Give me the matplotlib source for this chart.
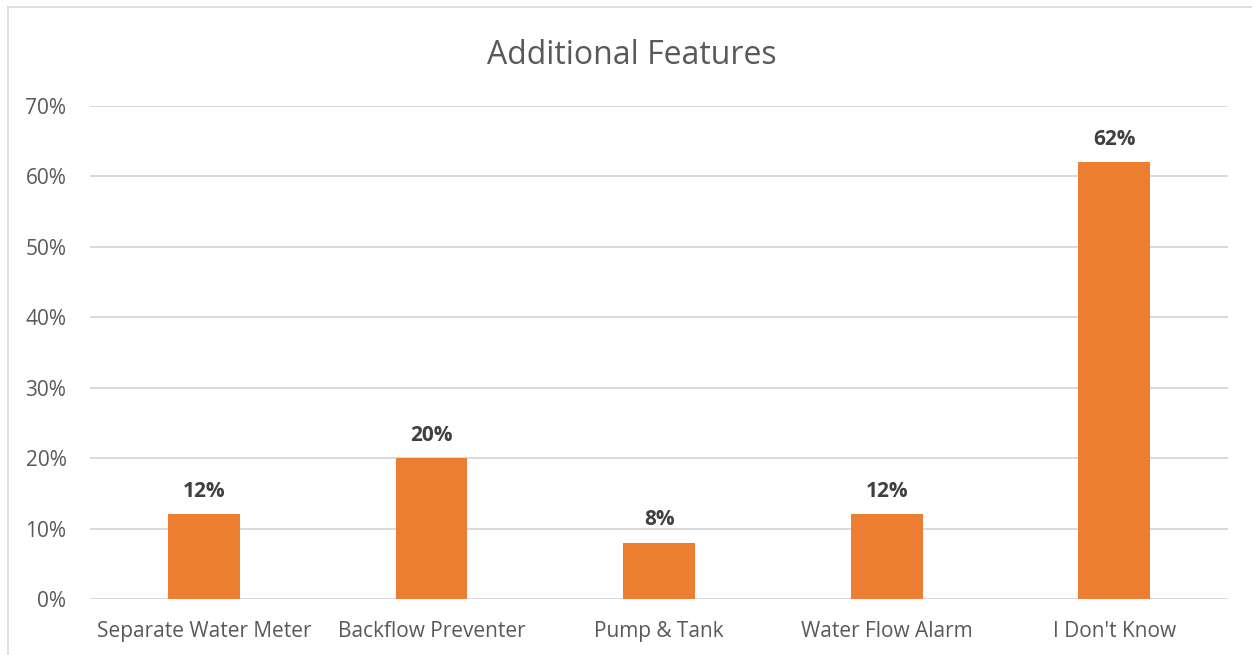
import matplotlib
matplotlib.use("Agg")
import matplotlib.pyplot as plt
from matplotlib.lines import Line2D
from matplotlib.ticker import PercentFormatter

categories = ["Separate Water Meter", "Backflow Preventer", "Pump & Tank",
              "Water Flow Alarm", "I Don't Know"]
shares = [0.12, 0.20, 0.08, 0.12, 0.62]
y_ticks = [0.0, 0.1, 0.2, 0.3, 0.4, 0.5, 0.6, 0.7]

BAR_COLOR = "#ED7D31"
TEXT_COLOR = "#595959"
GRID_COLOR = "#D9D9D9"

plt.rcParams["font.family"] = ["Open Sans", "DejaVu Sans"]

fig = plt.figure(figsize=(12.52, 6.55), dpi=100)
ax = fig.add_axes([0.0719, 0.0855, 0.9091, 0.7527])

x = range(len(categories))
bars = ax.bar(x, shares, width=0.316, color=BAR_COLOR, zorder=3)

for rect, val in zip(bars, shares):
    ax.annotate(f"{val:.0%}", (rect.get_x() + rect.get_width() / 2, val),
                xytext=(0, 9), textcoords="offset points",
                ha="center", va="bottom", fontsize=15, fontweight="bold",
                color="#404040")

ax.set_xlim(-0.5, len(categories) - 0.5)
ax.set_ylim(0, 0.7)
ax.set_yticks(y_ticks)
ax.yaxis.set_major_formatter(PercentFormatter(1.0, decimals=0))
ax.set_xticks(list(x))
ax.set_xticklabels(categories)
ax.tick_params(axis="both", length=0, labelsize=15, colors=TEXT_COLOR)
ax.tick_params(axis="y", pad=17)
ax.tick_params(axis="x", pad=16)
ax.grid(axis="y", color=GRID_COLOR, linewidth=1.4, zorder=0)
for side in ax.spines.values():
    side.set_visible(False)

fig.suptitle("Additional Features", x=0.505, y=0.941, fontsize=23,
             color=TEXT_COLOR)

# chart frame (left and top edges visible in the reference)
fig.add_artist(Line2D([0.0065, 0.0065], [0, 0.99], transform=fig.transFigure,
                      color=GRID_COLOR, linewidth=1.2))
fig.add_artist(Line2D([0.0065, 1.0], [0.99, 0.99], transform=fig.transFigure,
                      color=GRID_COLOR, linewidth=1.2))

fig.savefig("out.png", dpi=100)
